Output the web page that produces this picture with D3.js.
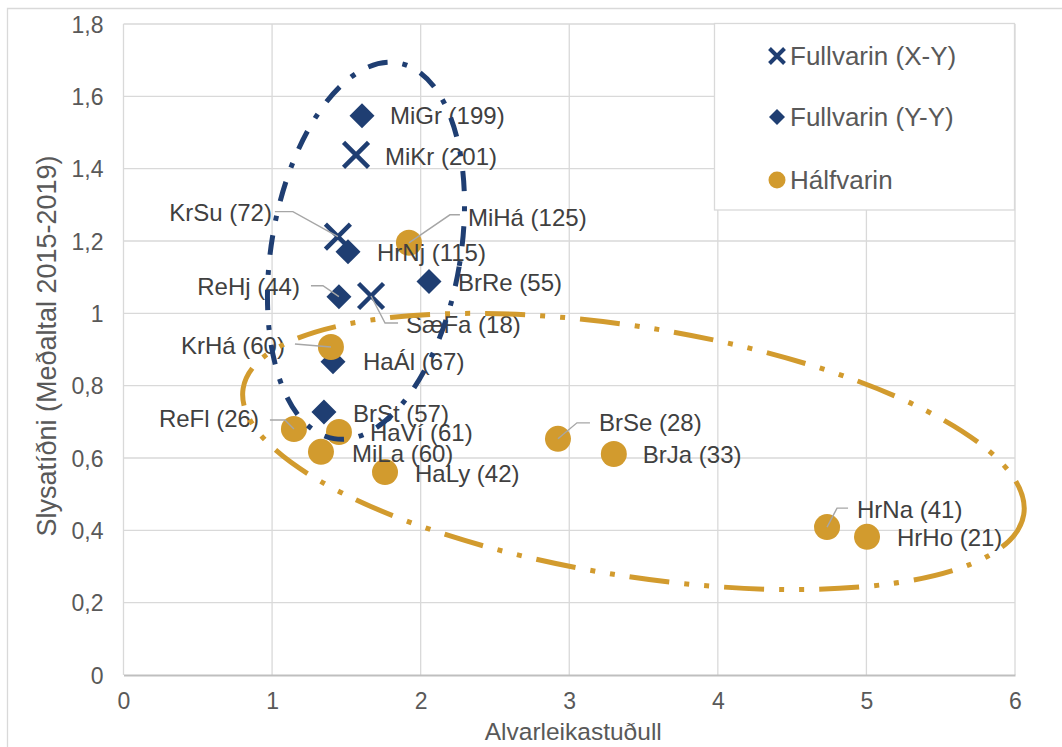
<!DOCTYPE html>
<html>
<head>
<meta charset="utf-8">
<script src="https://cdn.jsdelivr.net/npm/d3@7/dist/d3.min.js"></script>
<style>
  html, body { margin: 0; padding: 0; background: #fff; }
  svg { display: block; font-family: "Liberation Sans", Arial, sans-serif; }
</style>
</head>
<body>
<svg id="chart" width="1062" height="747"></svg>
<script>
// ---- data ----
const xTicks = [0, 1, 2, 3, 4, 5, 6];
const yTicks = [0, 0.2, 0.4, 0.6, 0.8, 1.0, 1.2, 1.4, 1.6, 1.8];
const xTitle = "Alvarleikastuðull";
const yTitle = "Slysatíðni (Meðaltal 2015-2019)";
const seriesNames = ["Fullvarin (X-Y)", "Fullvarin (Y-Y)", "Hálfvarin"];

const xyNames = ["MiKr (201)", "KrSu (72)", "SæFa (18)"];
const xyX = [1.565, 1.443, 1.666];
const xyY = [1.438, 1.212, 1.048];

const yyNames = ["MiGr (199)", "HrNj (115)", "ReHj (44)", "BrRe (55)", "HaÁl (67)", "BrSt (57)"];
const yyX = [1.605, 1.511, 1.45, 2.056, 1.41, 1.349];
const yyY = [1.546, 1.17, 1.046, 1.088, 0.866, 0.727];

const halfNames = ["MiHá (125)", "KrHá (60)", "ReFl (26)", "HaVí (61)", "MiLa (60)", "HaLy (42)", "BrSe (28)", "BrJa (33)", "HrNa (41)", "HrHo (21)"];
const halfX = [1.921, 1.396, 1.147, 1.45, 1.329, 1.76, 2.924, 3.30, 4.735, 5.004];
const halfY = [1.195, 0.907, 0.68, 0.672, 0.617, 0.561, 0.653, 0.611, 0.409, 0.382];

// group ellipses (data units: centre, semi-axis along x, semi-axis along y, rotation deg)
const groupEllipses = [
  { name: "full", cx: 1.632, cy: 1.173, ax: 0.636, ay: 0.527, rot: 9.7 },
  { name: "half", cx: 3.432, cy: 0.618, ax: 2.661, ay: 0.344, rot: 9.2 }
];

// ---- layout / style ----
const BLUE = "#1F3E72", GOLD = "#D29B2E";
const W = 1062, H = 747;
const svg = d3.select("#chart");
const x = d3.scaleLinear().domain([0, 6]).range([123.5, 1015]);
const y = d3.scaleLinear().domain([0, 1.8]).range([675, 24]);

// label placement (offsets in px from the marker; leader polyline relative to marker)
const labelLayout = {
  "MiKr (201)": { dx: 29, dy: 2 },
  "KrSu (72)": { dx: -66, dy: -24, anchor: "end", leader: [[0,0],[-45,-25],[-63,-25]] },
  "SæFa (18)": { dx: 35, dy: 29, leader: [[0,0],[14,27],[27,27]] },
  "MiGr (199)": { dx: 28, dy: 0 },
  "HrNj (115)": { dx: 29, dy: 1 },
  "ReHj (44)": { dx: -39, dy: -10, anchor: "end", leader: [[0,0],[-16,-11],[-28,-11]] },
  "BrRe (55)": { dx: 29, dy: 1 },
  "HaÁl (67)": { dx: 30, dy: 0 },
  "BrSt (57)": { dx: 29, dy: 2 },
  "MiHá (125)": { dx: 59, dy: -25, leader: [[0,0],[41,-28],[51,-28]] },
  "KrHá (60)": { dx: -46, dy: -1, anchor: "end", leader: [[0,0],[-36,-3]] },
  "ReFl (26)": { dx: -35, dy: -10, anchor: "end", leader: [[0,0],[-9,-9],[-24,-9]] },
  "HaVí (61)": { dx: 31, dy: 1 },
  "MiLa (60)": { dx: 31, dy: 2 },
  "HaLy (42)": { dx: 30, dy: 1 },
  "BrSe (28)": { dx: 41, dy: -16, leader: [[0,0],[19,-16],[32,-16]] },
  "BrJa (33)": { dx: 29, dy: 1 },
  "HrNa (41)": { dx: 30, dy: -17, leader: [[0,0],[10,-19],[21,-19]] },
  "HrHo (21)": { dx: 30, dy: 1 }
};

// outer chart border
svg.append("path").attr("d", `M7.5,${H+2} V8.5 H${W+2}`)
  .attr("fill", "none").attr("stroke", "#D9D9D9").attr("stroke-width", 1.3);

// gridlines
const grid = svg.append("g");
grid.selectAll(".gy").data(yTicks.filter(d => d > 0)).join("line")
  .attr("x1", x(0)).attr("x2", x(6)).attr("y1", d => y(d)).attr("y2", d => y(d))
  .attr("stroke", "#D9D9D9").attr("stroke-width", 1.3);
grid.selectAll(".gx").data(xTicks).join("line")
  .attr("x1", d => x(d)).attr("x2", d => x(d)).attr("y1", y(0)).attr("y2", y(1.8))
  .attr("stroke", "#D9D9D9").attr("stroke-width", 1.3);

// x axis
const xAxis = svg.append("g").attr("transform", `translate(0,${y(0)})`)
  .call(d3.axisBottom(x).tickValues(xTicks).tickSize(0).tickPadding(0).tickFormat(d3.format("d")));
xAxis.select(".domain").attr("stroke", "#BFBFBF").attr("stroke-width", 2);
xAxis.selectAll("text").attr("dy", null).attr("y", 34).attr("font-size", 23).attr("fill", "#595959")
  .attr("font-family", "Liberation Sans, Arial, sans-serif");

// y axis
const yAxis = svg.append("g").attr("transform", `translate(${x(0)},0)`)
  .call(d3.axisLeft(y).tickValues(yTicks).tickSize(0).tickPadding(20)
    .tickFormat(d => d3.format(".1f")(d).replace(".", ",").replace(/,0$/, "")));
yAxis.select(".domain").remove();
yAxis.selectAll("text").attr("font-size", 23).attr("fill", "#595959")
  .attr("font-family", "Liberation Sans, Arial, sans-serif").attr("dy", "0.35em");

// axis titles
svg.append("text").attr("x", (x(0) + x(6)) / 2 + 4).attr("y", 740)
  .attr("text-anchor", "middle").attr("font-size", 24.5).attr("fill", "#595959").text(xTitle);
svg.append("text").attr("transform", `translate(56,346) rotate(-90)`)
  .attr("text-anchor", "middle").attr("font-size", 27).attr("fill", "#595959").text(yTitle);

// legend
const lg = svg.append("g");
lg.append("rect").attr("x", 714.5).attr("y", 23.5).attr("width", 300).attr("height", 186.5)
  .attr("fill", "#fff").attr("stroke", "#D9D9D9").attr("stroke-width", 1.3);
const legY = [56, 117, 180];
const crossPath = s => `M${-s},${-s}L${s},${s}M${-s},${s}L${s},${-s}`;
const diamondPath = s => `M0,${-s}L${s},0L0,${s}L${-s},0Z`;
lg.append("path").attr("transform", `translate(777,${legY[0]})`).attr("d", crossPath(7.5))
  .attr("stroke", BLUE).attr("stroke-width", 4).attr("fill", "none");
lg.append("path").attr("transform", `translate(777,${legY[1]})`).attr("d", diamondPath(8)).attr("fill", BLUE);
lg.append("circle").attr("cx", 777).attr("cy", legY[2]).attr("r", 8.5).attr("fill", GOLD);
lg.selectAll(".lt").data(seriesNames).join("text")
  .attr("x", 790).attr("y", (d, i) => legY[i]).attr("dy", "0.35em")
  .attr("font-size", 26).attr("fill", "#595959").text(d => d);

// markers
const mk = svg.append("g");
const xyData = xyNames.map((n, i) => ({ n, x: xyX[i], y: xyY[i] }));
const yyData = yyNames.map((n, i) => ({ n, x: yyX[i], y: yyY[i] }));
const halfData = halfNames.map((n, i) => ({ n, x: halfX[i], y: halfY[i] }));

mk.selectAll(".cr").data(xyData).join("path")
  .attr("transform", d => `translate(${x(d.x)},${y(d.y)})`).attr("d", crossPath(12.5))
  .attr("stroke", BLUE).attr("stroke-width", 4.5).attr("fill", "none");
mk.selectAll(".dm").data(yyData).join("path")
  .attr("transform", d => `translate(${x(d.x)},${y(d.y)})`).attr("d", diamondPath(12.5))
  .attr("fill", BLUE);
mk.selectAll(".ci").data(halfData).join("circle")
  .attr("cx", d => x(d.x)).attr("cy", d => y(d.y)).attr("r", 13).attr("fill", GOLD);

// labels + leader lines
const allPts = [...xyData, ...yyData, ...halfData];
const lab = svg.append("g");
allPts.forEach(d => {
  const L = labelLayout[d.n] || { dx: 29, dy: 0 };
  const px = x(d.x), py = y(d.y);
  if (L.leader) {
    lab.append("path")
      .attr("d", d3.line()(L.leader.map(p => [px + p[0], py + p[1]])))
      .attr("fill", "none").attr("stroke", "#A6A6A6").attr("stroke-width", 1.4);
  }
  lab.append("text").attr("x", px + L.dx).attr("y", py + L.dy).attr("dy", "0.35em")
    .attr("text-anchor", L.anchor || "start").attr("font-size", 24).attr("fill", "#404040")
    .text(d.n);
});

// group ellipses on top
const el = svg.append("g");
groupEllipses.forEach(e => {
  const cx = x(e.cx), cy = y(e.cy);
  el.append("ellipse").attr("cx", cx).attr("cy", cy)
    .attr("rx", x(e.ax) - x(0)).attr("ry", y(0) - y(e.ay))
    .attr("transform", `rotate(${e.rot},${cx},${cy})`)
    .attr("fill", "none")
    .attr("stroke", e.name === "full" ? BLUE : GOLD)
    .attr("stroke-width", 5)
    .attr("stroke-dasharray", e.name === "full" ? "20 15 5 15" : "40 15 5 15 5 15");
});
</script>
</body>
</html>
